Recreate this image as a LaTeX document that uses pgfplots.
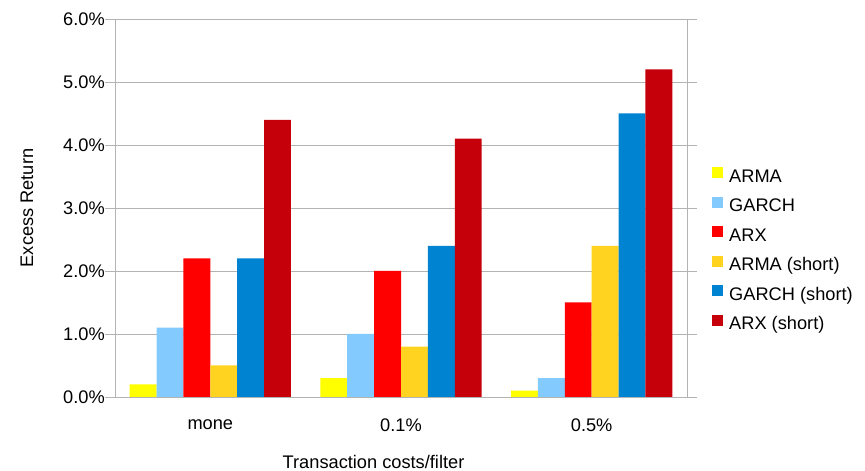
\documentclass[border=0pt]{standalone}
\usepackage{fontspec}
\setmainfont{Liberation Sans}
\usepackage{pgfplots}
\pgfplotsset{compat=1.18}

\definecolor{cArma}{HTML}{FFFF00}
\definecolor{cGarch}{HTML}{83CAFF}
\definecolor{cArx}{HTML}{FF0000}
\definecolor{cArmaS}{HTML}{FFD320}
\definecolor{cGarchS}{HTML}{0084D1}
\definecolor{cArxS}{HTML}{C5000B}
\definecolor{frame}{HTML}{B3B3B3}

\begin{document}
\begin{tikzpicture}
\useasboundingbox (0,0) rectangle (865bp,471bp);
\begin{axis}[
  at={(115bp,74bp)}, anchor=south west,
  scale only axis, width=572bp, height=378bp,
  font=\fontsize{18.3}{22}\selectfont,
  ybar=0pt, bar width=0.141,
  xmin=-0.5, xmax=2.5, ymin=0, ymax=6,
  xtick={0,1,2}, xticklabels={mone,0.1\%,0.5\%},
  major x tick style={draw=none},
  xticklabel style={anchor=north, inner sep=0pt, yshift=-12bp},
  extra x ticks={-0.5,0.5,1.5,2.5}, extra x tick labels={},
  extra x tick style={major tick length=10bp, tick align=outside,
    xmajorgrids=false, major tick style={draw=frame, line width=0.8pt}},
  ytick={0,1,2,3,4,5,6},
  yticklabels={0.0\%,1.0\%,2.0\%,3.0\%,4.0\%,5.0\%,6.0\%},
  yticklabel style={anchor=east, inner sep=0pt},
  ytick align=outside, major tick length=10bp,
  ymajorgrids, grid style={draw=frame, line width=0.8pt},
  axis line style={draw=frame, line width=0.8pt},
  tick style={draw=frame, line width=0.8pt},
  xlabel={Transaction costs/filter},
  xlabel style={at={(axis description cs:0.452,-0.172)}, anchor=center},
  ylabel={Excess Return},
  ylabel style={at={(axis description cs:-0.1538,0.5)}, anchor=center},
  legend style={at={(axis description cs:1.0437,0.39)}, anchor=west,
    draw=none, fill=none, inner sep=0pt, row sep=12bp,
    nodes={inner sep=0pt, text height=12.5bp, text depth=2.5bp},
    /tikz/every odd column/.style={column sep=6bp}},
  legend cell align=left,
  legend image code/.code={\fill[#1,draw=none] (0bp,-1bp) rectangle (11bp,10bp);},
]
\addplot[fill=cArma, draw=none]   coordinates {(0,0.2) (1,0.3) (2,0.1)};
\addplot[fill=cGarch, draw=none]  coordinates {(0,1.1) (1,1.0) (2,0.3)};
\addplot[fill=cArx, draw=none]    coordinates {(0,2.2) (1,2.0) (2,1.5)};
\addplot[fill=cArmaS, draw=none]  coordinates {(0,0.5) (1,0.8) (2,2.4)};
\addplot[fill=cGarchS, draw=none] coordinates {(0,2.2) (1,2.4) (2,4.5)};
\addplot[fill=cArxS, draw=none]   coordinates {(0,4.4) (1,4.1) (2,5.2)};
\legend{ARMA,GARCH,ARX,ARMA (short),GARCH (short),ARX (short)}
\end{axis}
\end{tikzpicture}
\end{document}
